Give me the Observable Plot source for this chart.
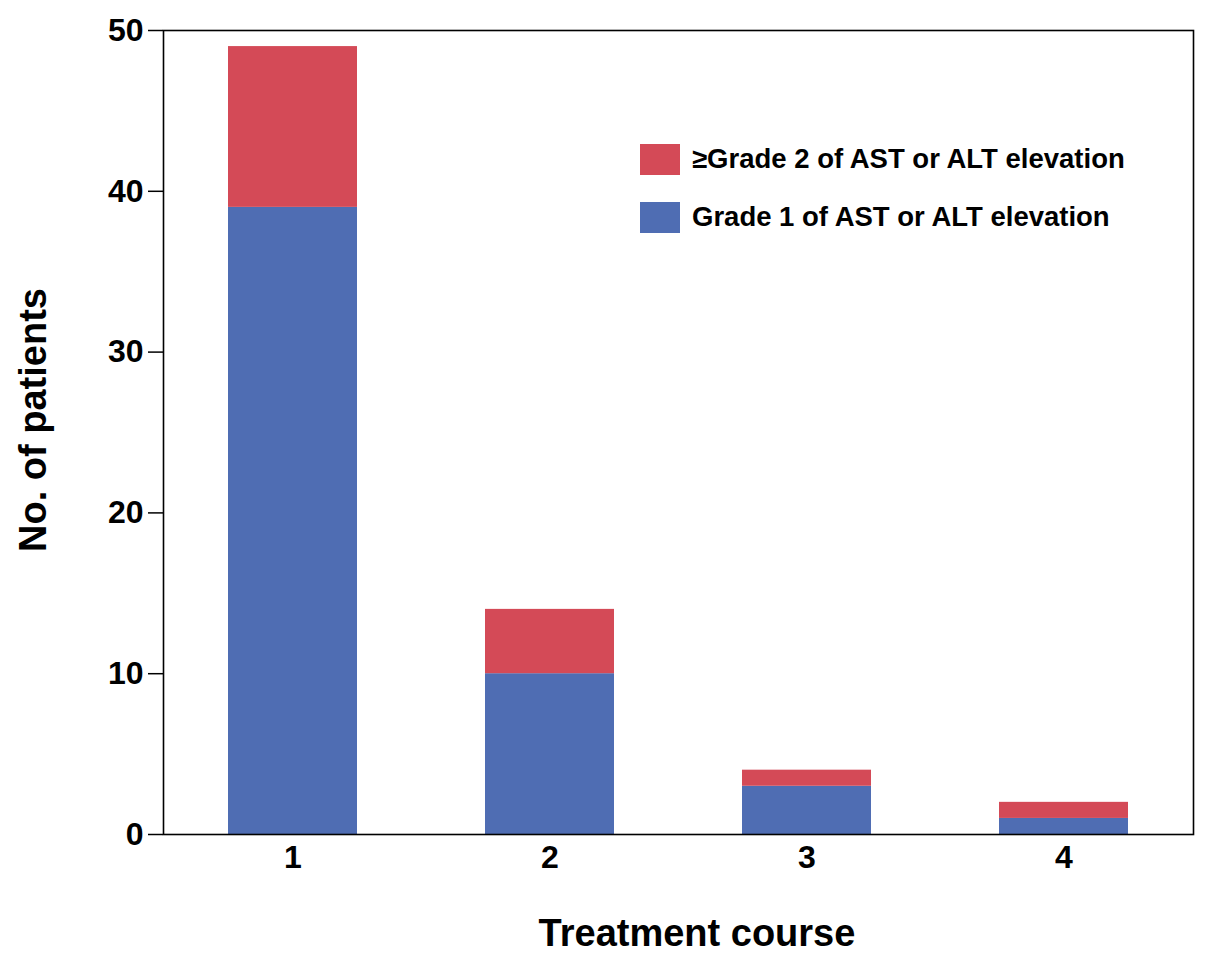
<!DOCTYPE html>
<html><head><meta charset="utf-8">
<script src="https://cdn.jsdelivr.net/npm/d3@7"></script>
<script src="https://cdn.jsdelivr.net/npm/@observablehq/plot@0.6"></script>
<style>
body{margin:0;background:#fff;font-family:"Liberation Sans",Arial,sans-serif}
#wrap{position:relative;width:1205px;height:959px}
#wrap svg text{font-size:32px !important;font-weight:bold !important}
.leg{position:absolute;left:640px;display:flex;align-items:center;font-weight:bold;font-size:27.5px;color:#000;white-space:nowrap}
.sw{width:40px;height:31px;margin-right:12px}
.title{position:absolute;font-weight:bold;font-size:38px;color:#000;white-space:nowrap;line-height:1}
</style></head><body><div id="wrap"></div>
<script>
const courses = ["1","2","3","4"];
const grade1 = [39,10,3,1];
const grade2 = [10,4,1,1];
const seriesNames = ["Grade 1 of AST or ALT elevation","≥Grade 2 of AST or ALT elevation"];
const colors = ["#4f6db3","#d44a57"];
const yTicks = [0,10,20,30,40,50];
const xTitle = "Treatment course";
const yTitle = "No. of patients";

const data = courses.flatMap((c,i)=>[
  {course:c, series:seriesNames[0], value:grade1[i]},
  {course:c, series:seriesNames[1], value:grade2[i]}
]);

const chart = Plot.plot({
  width:1205, height:959,
  marginTop:30, marginLeft:163, marginRight:12, marginBottom:125,
  style:{fontFamily:'"Liberation Sans",Arial,sans-serif', background:"#fff", color:"#000"},
  x:{domain:courses, paddingInner:0.5, paddingOuter:0.25, axis:null},
  y:{domain:[0,50], axis:null},
  color:{domain:seriesNames, range:colors},
  marks:[
    Plot.barY(data, {x:"course", y:"value", fill:"series"}),
    Plot.frame({stroke:"#000", strokeWidth:1.6}),
    Plot.axisY({ticks:yTicks, tickSize:15, tickPadding:5, tickFormat:d=>String(d), label:null, strokeWidth:1.5}),
    Plot.axisX({tickSize:0, tickPadding:11, label:null})
  ]
});
const wrap = document.getElementById("wrap");
wrap.appendChild(chart);
[[1,143],[0,201]].forEach(([i,top])=>{
  const d=document.createElement("div");
  d.className="leg"; d.style.top=top+"px";
  d.innerHTML=`<div class="sw" style="background:${colors[i]}"></div><span>${seriesNames[i]}</span>`;
  wrap.appendChild(d);
});
const xt=document.createElement("div");
xt.className="title"; xt.textContent=xTitle;
xt.style.left="697px"; xt.style.top="933px"; xt.style.transform="translate(-50%,-50%)";
wrap.appendChild(xt);
const yt=document.createElement("div");
yt.className="title"; yt.textContent=yTitle;
yt.style.left="33px"; yt.style.top="420px"; yt.style.transform="translate(-50%,-50%) rotate(-90deg)";
wrap.appendChild(yt);
</script>
</body></html>
